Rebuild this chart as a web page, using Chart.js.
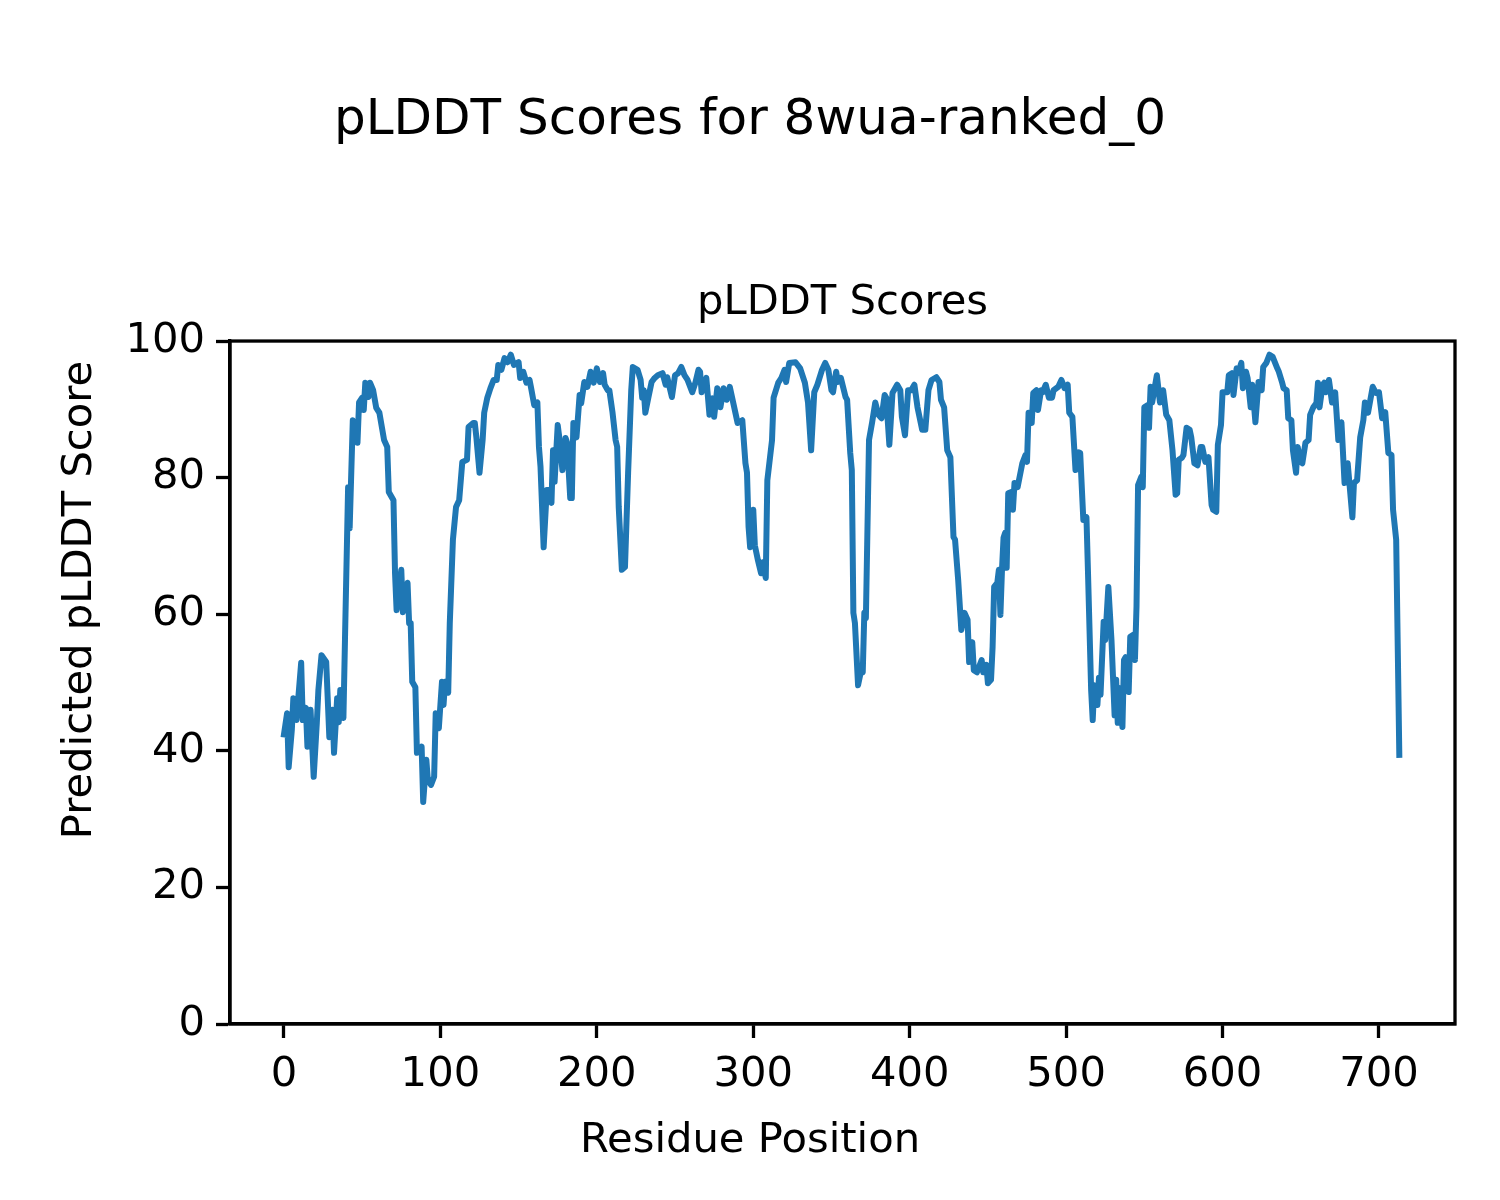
<!DOCTYPE html>
<html>
<head>
<meta charset="utf-8">
<script src="https://cdn.jsdelivr.net/npm/chart.js@4.4.0/dist/chart.umd.min.js"></script>
<style>
  html, body { margin: 0; padding: 0; background: #fff; }
  #wrap { width: 1500px; height: 1200px; }
</style>
</head>
<body>
<div id="wrap"><canvas id="plddt" width="1500" height="1200"></canvas></div>
<script>
// residue positions (vertices) and their pLDDT scores
const residues = [
  0, 2, 3, 5, 6, 8, 11, 12, 14, 15, 17, 19, 21, 22, 24, 27, 29, 31, 32, 34, 35, 36, 38, 39, 41, 42, 44, 47, 48, 50,
  51, 52, 54, 55, 57, 59, 61, 64, 66, 67, 70, 71, 72, 75, 76, 79, 80, 81, 82, 84, 85, 88, 89, 91, 92, 94, 96, 97, 99, 101,
  102, 103, 105, 106, 108, 110, 112, 114, 117, 118, 121, 122, 123, 125, 127, 128, 130, 132, 134, 136, 137, 139, 141, 143, 145, 147, 150, 151, 153, 155,
  157, 158, 160, 162, 163, 164, 166, 168, 169, 171, 172, 173, 175, 176, 178, 180, 181, 183, 184, 185, 187, 189, 190, 192, 194, 196, 198, 200, 202, 204,
  205, 207, 208, 210, 212, 213, 214, 216, 218, 220, 222, 223, 226, 228, 229, 230, 231, 233, 235, 237, 239, 242, 244, 245, 248, 250, 252, 254, 256, 258,
  261, 263, 265, 266, 267, 270, 272, 274, 275, 277, 279, 281, 283, 285, 290, 293, 295, 296, 297, 298, 300, 301, 303, 305, 306, 308, 309, 312, 313, 316,
  318, 320, 321, 323, 327, 330, 333, 335, 337, 339, 341, 344, 346, 348, 350, 351, 353, 354, 356, 359, 360, 362, 363, 364, 365, 367, 369, 370, 371, 372,
  374, 376, 378, 380, 382, 384, 385, 387, 389, 392, 394, 395, 397, 399, 401, 403, 405, 408, 410, 412, 414, 417, 419, 420, 422, 424, 426, 428, 429, 431,
  433, 435, 437, 438, 440, 441, 443, 446, 447, 449, 450, 452, 453, 454, 456, 457, 458, 459, 460, 461, 462, 463, 465, 466, 467, 469, 472, 474, 475, 476,
  478, 479, 481, 482, 484, 485, 487, 489, 491, 492, 495, 497, 499, 501, 502, 504, 506, 508, 509, 511, 513, 514, 516, 517, 518, 520, 521, 522, 524, 525,
  527, 529, 531, 532, 533, 534, 536, 537, 538, 540, 541, 543, 544, 545, 546, 548, 549, 550, 552, 553, 554, 555, 558, 560, 562, 564, 566, 568, 570, 571,
  572, 574, 575, 577, 579, 580, 582, 584, 586, 587, 589, 591, 593, 594, 596, 597, 599, 600, 603, 604, 606, 607, 609, 610, 612, 613, 615, 616, 618, 619,
  621, 623, 625, 626, 628, 630, 632, 635, 636, 638, 639, 641, 642, 644, 645, 647, 648, 650, 651, 653, 655, 656, 658, 660, 661, 662, 664, 665, 666, 668,
  670, 672, 674, 676, 678, 680, 683, 684, 686, 688, 690, 691, 693, 696, 698, 700, 702, 704, 706, 708, 709, 711, 713
];
const scores = [
  42.4, 45.5, 37.6, 43, 47.7, 44.5, 52.9, 44.5, 46.3, 40.6, 46, 36.2, 44.1, 48.9, 54, 53, 42, 46, 39.7, 47.7, 44.2, 48.9, 44.8, 56.2, 78.6, 72.6, 88.4, 85.1, 91, 91.7,
  89.9, 93.9, 91.8, 93.9, 92.8, 90.2, 89.5, 85.5, 84.5, 77.9, 76.7, 66, 60.6, 66.5, 60.3, 64.6, 58.7, 58.7, 50.1, 49.3, 39.7, 40.6, 32.5, 38.7, 35.7, 35, 36.2, 45.5, 43.3, 50.1,
  46.7, 50.1, 48.5, 58.7, 70.9, 75.7, 76.7, 82.3, 82.6, 87.4, 88, 88, 85.9, 80.7, 85.5, 89.5, 91.7, 93.1, 94.3, 94.3, 96.5, 95.8, 97.5, 96.9, 98, 96.5, 96.9, 94.6, 95.5, 93.9,
  94.3, 93.1, 90.6, 91, 84.5, 81.6, 69.8, 78.2, 78.2, 76.3, 84, 79.4, 87.7, 85.9, 81.1, 85.8, 85.1, 77, 77, 88, 85.9, 92.1, 90.9, 94, 93.3, 95.5, 93.9, 96, 94, 95.3,
  93.6, 92.8, 92.8, 89.6, 85.5, 84.5, 75.7, 66.5, 66.9, 80.7, 92.8, 96.2, 95.8, 94.3, 91.7, 92.8, 89.5, 91.8, 94, 94.6, 95, 95.3, 93.6, 94.7, 91.8, 95, 95.3, 96.2, 95, 94.3,
  92.5, 93.9, 95.8, 95.5, 92.5, 94.6, 89.2, 91.6, 88.9, 93.1, 90.3, 93.1, 91.4, 93.3, 88, 88.4, 82.1, 80.7, 72.8, 69.8, 75.3, 70.1, 67.9, 66, 67.6, 65.3, 79.6, 85.5, 91.7, 93.9,
  94.6, 95.8, 94, 96.8, 96.9, 96, 93.9, 91, 84, 92.5, 93.6, 95.8, 96.8, 95.8, 92.8, 92.5, 95.5, 94, 94.6, 91.8, 91.4, 83.6, 81.1, 60.2, 58.7, 49.6, 51.8, 51.5, 60.2, 59.4,
  85.5, 88.1, 91, 89.2, 88.7, 92.1, 91.7, 84.8, 92.4, 93.6, 92.8, 88.9, 86.2, 92.8, 92.8, 93.6, 90.3, 87, 87, 92.8, 94.3, 94.7, 94, 91.4, 90.3, 84, 83, 71.3, 70.9, 65,
  57.7, 60.2, 59.2, 53, 55.9, 51.8, 51.5, 53.3, 51.5, 52.6, 49.9, 50.4, 55.2, 64, 64.6, 66.5, 59.9, 66.5, 71.2, 71.9, 66.8, 77.7, 77.9, 75.3, 79.2, 78.6, 82.1, 83.3, 82.3, 89.5,
  88, 92.4, 92.8, 89.9, 92.8, 92.5, 93.6, 91.7, 91.7, 92.8, 93.3, 94.3, 93.1, 93.6, 89.5, 88.9, 81.1, 83.7, 83.6, 73.8, 74.2, 66, 48.9, 44.5, 49.6, 46.7, 50.7, 48.2, 58.9, 56.2,
  64, 56.2, 45.2, 50.4, 44.1, 49.2, 43.5, 53.3, 53.7, 48.6, 56.7, 57, 53.3, 61.1, 78.9, 80.1, 78.6, 90.3, 90.6, 87.3, 93.3, 91, 95, 91, 92.8, 89.2, 88.4, 84, 77.5, 77.7,
  82.6, 82.9, 83.3, 87.3, 87, 85.9, 82.1, 81.8, 84.5, 84.5, 82.3, 83, 76, 75.3, 75, 84.8, 87.7, 92.5, 92.5, 95, 95.3, 92.1, 96, 95.3, 96.8, 93.1, 95.5, 94.6, 90.3, 93.6,
  88.1, 94, 92.8, 96.2, 96.8, 98, 97.7, 96, 95.5, 94, 93.1, 92.8, 88.7, 88.4, 84, 80.7, 84.5, 82.3, 82.1, 85.1, 85.5, 89.2, 90.3, 90.9, 93.9, 90.3, 93.6, 93.9, 92.5, 94.3,
  91, 92.5, 85.5, 88.1, 79.2, 82.1, 74.2, 79.2, 79.6, 85.9, 88.4, 91, 89.5, 93.3, 92.4, 92.5, 88.7, 89.6, 83.6, 83.3, 75.3, 70.9, 39.4
];
const xTicks = [0, 100, 200, 300, 400, 500, 600, 700];
const yTicks = [0, 20, 40, 60, 80, 100];

const points = residues.map((r, i) => ({ x: r, y: scores[i] }));

const FONT = "'DejaVu Sans', sans-serif";
const tickFont = { family: FONT, size: 41.7 };

// matplotlib-style box around the axes
const frame = {
  id: 'frame',
  afterDraw(chart) {
    const { ctx, chartArea: a } = chart;
    ctx.save();
    ctx.strokeStyle = '#000';
    ctx.lineWidth = 3.3;
    ctx.strokeRect(a.left, a.top, a.right - a.left, a.bottom - a.top);
    ctx.restore();
  }
};

// figure-level x / y labels (centred on the figure, like fig.supxlabel / supylabel)
const figLabels = {
  id: 'figLabels',
  afterDraw(chart) {
    const { ctx, width, height } = chart;
    ctx.save();
    ctx.fillStyle = '#000';
    ctx.font = "41.7px 'DejaVu Sans', sans-serif";
    ctx.textAlign = 'center';
    ctx.textBaseline = 'middle';
    ctx.fillText('Residue Position', width / 2, 1141);
    ctx.translate(80, height / 2);
    ctx.rotate(-Math.PI / 2);
    ctx.fillText('Predicted pLDDT Score', 0, 0);
    ctx.restore();
  }
};

const ctx = document.getElementById('plddt').getContext('2d');
new Chart(ctx, {
  type: 'line',
  data: {
    datasets: [{
      data: points,
      borderColor: '#1f77b4',
      borderWidth: 6,
      pointRadius: 0,
      tension: 0,
      borderJoinStyle: 'round',
      borderCapStyle: 'square',
      fill: false
    }]
  },
  plugins: [frame, figLabels],
  options: {
    responsive: false,
    devicePixelRatio: 1,
    animation: false,
    layout: { padding: { left: 45, right: 45, top: 0, bottom: 0 } },
    scales: {
      x: {
        type: 'linear',
        min: -34.5,
        max: 748.6,
        afterBuildTicks: s => { s.ticks = xTicks.map(v => ({ value: v })); },
        afterFit: s => { s.height = 176; },
        grid: { drawOnChartArea: false, drawTicks: true, tickLength: 14, tickWidth: 3.3, tickColor: '#000' },
        border: { display: true, color: '#000', width: 3.3 },
        ticks: { color: '#000', font: tickFont, padding: 12, maxRotation: 0 }
      },
      y: {
        min: 0,
        max: 100,
        afterBuildTicks: s => { s.ticks = yTicks.map(v => ({ value: v })); },
        afterFit: s => { s.width = 185; },
        grid: { drawOnChartArea: false, drawTicks: true, tickLength: 14, tickWidth: 3.3, tickColor: '#000' },
        border: { display: true, color: '#000', width: 3.3 },
        ticks: { color: '#000', font: tickFont, padding: 11 }
      }
    },
    plugins: {
      legend: { display: false },
      tooltip: { enabled: false },
      title: {
        display: true,
        text: 'pLDDT Scores for 8wua-ranked_0',
        color: '#000',
        font: { family: FONT, size: 50, weight: 'normal' },
        padding: { top: 91, bottom: 127 }
      },
      subtitle: {
        display: true,
        fullSize: false,
        text: 'pLDDT Scores',
        color: '#000',
        font: { family: FONT, size: 41.7, weight: 'normal' },
        padding: { top: 0, bottom: 13 }
      }
    }
  }
});
</script>
</body>
</html>
